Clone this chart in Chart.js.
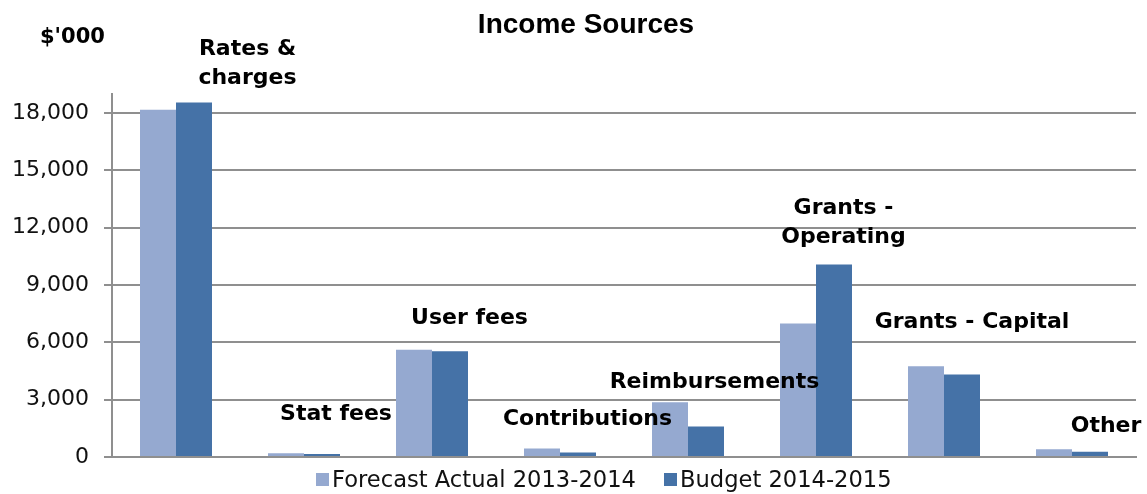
<!DOCTYPE html>
<html>
<head>
<meta charset="utf-8">
<title>Income Sources</title>
<script src="https://cdn.jsdelivr.net/npm/chart.js@4.4.1/dist/chart.umd.min.js"></script>
<style>
  html, body { margin: 0; padding: 0; background: #fff; }
</style>
</head>
<body>
<canvas id="income-chart" width="1147" height="494"></canvas>
<script>
/* Income Sources – forecast vs budget, $'000 */

var categories = ['Rates & charges', 'Stat fees', 'User fees', 'Contributions',
                  'Reimbursements', 'Grants - Operating', 'Grants - Capital', 'Other'];
var seriesNames = ['Forecast Actual 2013-2014', 'Budget 2014-2015'];
var forecastActual = [18180, 190, 5620, 440, 2870, 6990, 4750, 400];
var budget         = [18560, 160, 5530, 230, 1590, 10070, 4320, 270];
var yTicks = [0, 3000, 6000, 9000, 12000, 15000, 18000];

var COLORS = ['#95a9d0', '#4572a7'];
var GRID   = '#8f8f8f';

/* where each category name sits: offset from the bar pair, text baseline, line break */
var labelLayout = [
    { dx: 71.5, baseline: 55,  breakAfter: 2 },
    { dx: 32,   baseline: 420, breakAfter: 0 },
    { dx: 37.5, baseline: 324, breakAfter: 0 },
    { dx: 27.5, baseline: 425, breakAfter: 0 },
    { dx: 26.5, baseline: 388, breakAfter: 0 },
    { dx: 27.5, baseline: 214, breakAfter: 2 },
    { dx: 28,   baseline: 328, breakAfter: 0 },
    { dx: 34,   baseline: 432, breakAfter: 0 }
];

Chart.defaults.font.family = "'DejaVu Sans', sans-serif";
Chart.defaults.color = '#111';

/* ── Titles, category names and legend drawn on the canvas ───── */
var incomeText = {
    id: 'incomeText',
    afterDatasetsDraw: function (chart) {
        var ctx = chart.ctx;
        var xs  = chart.scales.x;

        ctx.save();
        ctx.fillStyle = '#000';
        ctx.textBaseline = 'alphabetic';

        // category names
        ctx.textAlign = 'center';
        ctx.font = "bold 22px 'DejaVu Sans'";
        categories.forEach(function (name, i) {
            var pos   = labelLayout[i];
            var words = name.split(' ');
            var lines = pos.breakAfter
                ? [words.slice(0, pos.breakAfter).join(' '), words.slice(pos.breakAfter).join(' ')]
                : [name];
            var cx = xs.getPixelForValue(i) + pos.dx;
            lines.forEach(function (line, j) {
                ctx.fillText(line, cx, pos.baseline + j * 29);
            });
        });

        // chart title
        ctx.font = "bold 28px 'Liberation Sans'";
        ctx.fillText('Income Sources', 586, 33);

        // unit
        ctx.textAlign = 'left';
        ctx.font = "bold 21px 'DejaVu Sans'";
        ctx.fillText("$'000", 40, 43);

        // legend
        ctx.font = "22.6px 'DejaVu Sans'";
        var legendX = [316, 664];
        seriesNames.forEach(function (name, i) {
            ctx.fillStyle = COLORS[i];
            ctx.fillRect(legendX[i], 473, 13, 13);
            ctx.fillStyle = '#111';
            ctx.fillText(name, legendX[i] + 16, 487);
        });

        ctx.restore();
    }
};

new Chart(document.getElementById('income-chart'), {
    type: 'bar',
    data: {
        labels: categories,
        datasets: [{
            label: seriesNames[0],
            data: forecastActual,
            backgroundColor: COLORS[0],
            categoryPercentage: 0.5625,
            barPercentage: 1.0,
        }, {
            label: seriesNames[1],
            data: budget,
            backgroundColor: COLORS[1],
            categoryPercentage: 0.5625,
            barPercentage: 1.0,
        }],
    },
    options: {
        responsive: false,
        animation: false,
        devicePixelRatio: 1,
        layout: { padding: { top: 94, right: 11, bottom: 37, left: 0 } },
        plugins: {
            legend:  { display: false },
            title:   { display: false },
            tooltip: { enabled: false },
        },
        scales: {
            x: {
                grid:   { display: false },
                border: { display: true, color: GRID, width: 2 },
                ticks:  { display: false },
                afterFit: function (scale) { scale.height = 0; },
            },
            y: {
                min: 0,
                max: 19000,
                grid:   { color: GRID, lineWidth: 2, drawTicks: true, tickLength: 8 },
                border: { display: true, color: GRID, width: 2 },
                ticks: {
                    padding: 15,
                    color: '#111',
                    font: { size: 22 },
                    callback: function (v) { return Number(v).toLocaleString('en-US'); },
                },
                afterBuildTicks: function (scale) {
                    scale.ticks = yTicks.map(function (v) { return { value: v }; });
                },
                afterFit: function (scale) { scale.width = 112; },
            },
        },
    },
    plugins: [incomeText],
});
</script>
</body>
</html>
